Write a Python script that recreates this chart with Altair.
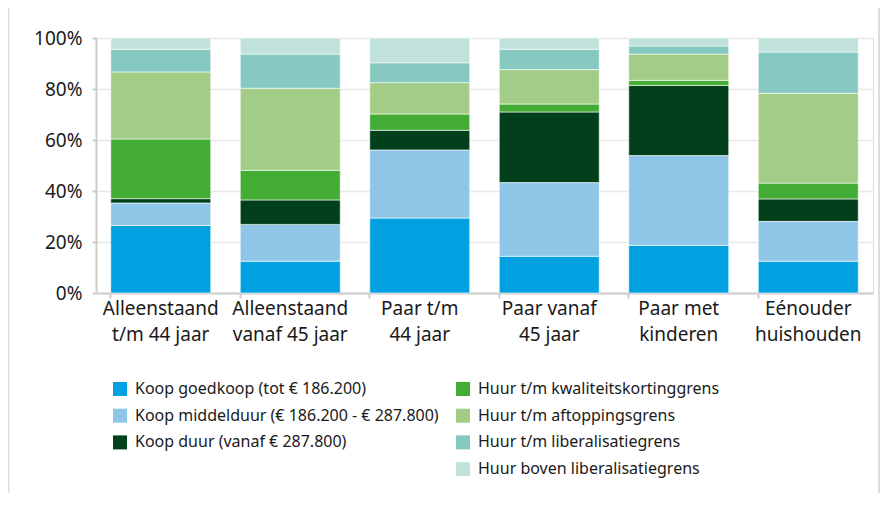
import altair as alt
import pandas as pd

categories = [
    "Alleenstaand|t/m 44 jaar",
    "Alleenstaand|vanaf 45 jaar",
    "Paar t/m|44 jaar",
    "Paar vanaf|45 jaar",
    "Paar met|kinderen",
    "Eénouder|huishouden",
]

series = [
    "Koop goedkoop (tot € 186.200)",
    "Koop middelduur (€ 186.200 - € 287.800)",
    "Koop duur (vanaf € 287.800)",
    "Huur t/m kwaliteitskortinggrens",
    "Huur t/m aftoppingsgrens",
    "Huur t/m liberalisatiegrens",
    "Huur boven liberalisatiegrens",
]

colors = ["#00A0E1", "#8FC6E8", "#01401B", "#43AC34", "#A3CD86", "#86C9C0", "#C0E2DB"]

# percentages per series, one value per category
koop_goedkoop = [26.5, 12.5, 29.4, 14.4, 18.7, 12.5]
koop_middelduur = [8.8, 14.4, 26.7, 28.9, 35.2, 15.6]
koop_duur = [1.7, 9.6, 7.7, 27.7, 27.5, 8.8]
huur_kwaliteit = [23.4, 11.6, 6.4, 3.1, 2.0, 6.2]
huur_aftopping = [26.3, 32.2, 12.3, 13.5, 10.3, 35.2]
huur_liberalisatie = [8.9, 13.4, 7.8, 8.0, 3.2, 16.2]
huur_boven = [4.4, 6.3, 9.7, 4.4, 3.1, 5.5]

values = [koop_goedkoop, koop_middelduur, koop_duur, huur_kwaliteit,
          huur_aftopping, huur_liberalisatie, huur_boven]

rows = []
for si, (s, vals) in enumerate(zip(series, values)):
    for c, v in zip(categories, vals):
        rows.append({"categorie": c, "reeks": s, "waarde": v, "volgorde": si})
df = pd.DataFrame(rows)

# legend is filled column by column (4 rows): koop series, one blank slot, then huur series
legend_domain = series[:3] + [" "] + series[3:]
legend_range = colors[:3] + ["rgba(0,0,0,0)"] + colors[3:]

FONT = "Noto Sans"
TXT = "#1a1a1a"
W, H = 777, 255

bars = alt.Chart(df).mark_bar(stroke="white", strokeWidth=0.6).encode(
    x=alt.X("categorie:N", sort=categories, title=None,
            scale=alt.Scale(paddingInner=0.228, paddingOuter=0.114),
            axis=alt.Axis(labelExpr="split(datum.value, '|')", labelAngle=0,
                          labelFontSize=19, labelLineHeight=26, labelPadding=1,
                          bandPosition=0, tickSize=5, tickColor="#cccccc", tickWidth=2,
                          domainColor="#cccccc", domainWidth=2, labelColor=TXT,
                          labelFont=FONT, labelBaseline="top")),
    y=alt.Y("waarde:Q", stack="normalize", title=None,
            scale=alt.Scale(domain=[0, 1]),
            axis=alt.Axis(values=[0, 0.2, 0.4, 0.6, 0.8, 1.0], format=".0%",
                          labelFontSize=19, labelFont=FONT, labelColor=TXT,
                          tickSize=4, tickColor="#cccccc", tickWidth=2,
                          domainColor="#cccccc", domainWidth=2,
                          grid=True, gridColor="#e8e8e8", gridWidth=1.5, labelPadding=10)),
    color=alt.Color("reeks:N", scale=alt.Scale(domain=legend_domain, range=legend_range),
                    legend=alt.Legend(title=None, orient="none", legendX=16, legendY=343,
                                      columns=2, columnPadding=16, rowPadding=10.7,
                                      symbolType="square", symbolSize=196, symbolStrokeWidth=0,
                                      labelOffset=7,
                                      labelFontSize=16, labelFont=FONT, labelColor=TXT,
                                      labelLimit=400, padding=0)),
    order=alt.Order("volgorde:Q", sort="ascending"),
)

frame_df = pd.DataFrame({"side": ["l", "r"], "px": [-87.5, 783]})
frame = alt.Chart(frame_df).mark_rule(color="#dddddd", strokeWidth=2).encode(
    x=alt.X("px:Q", scale=None),
    y=alt.value(-30),
    y2=alt.value(H + 200),
)

chart = alt.layer(frame, bars).properties(
    width=W, height=H,
    autosize=alt.AutoSizeParams(type="none"),
    padding={"left": 88, "top": 30, "right": 7, "bottom": 200},
).configure_view(stroke=None).configure(background="white")

chart.save("out.html", embed_options={"renderer": "svg", "actions": False})
